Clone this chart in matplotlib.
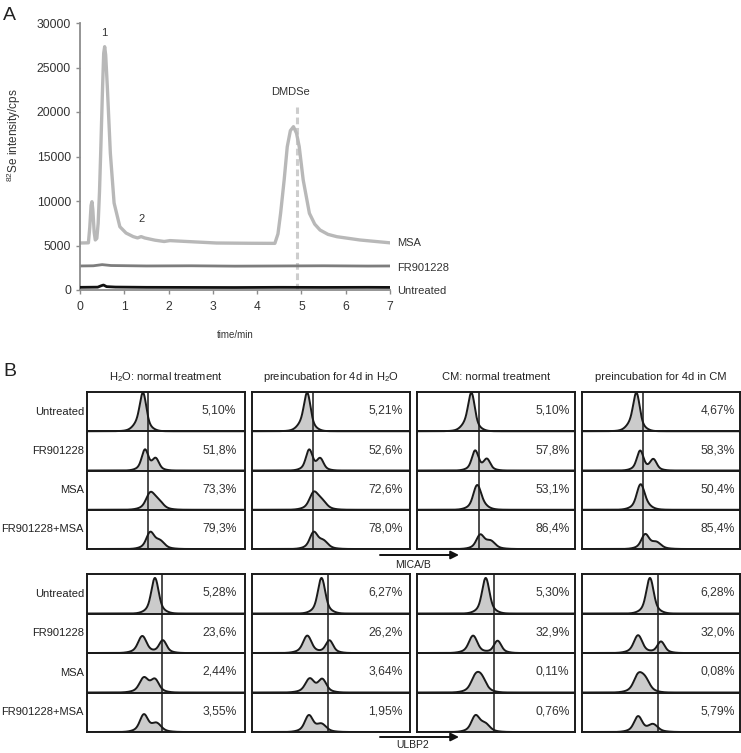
import numpy as np
import matplotlib.pyplot as plt

plt.rcParams['font.family'] = ['Liberation Sans', 'DejaVu Sans']
plt.rcParams['mathtext.default'] = 'regular'

# ---- Panel A: 82Se chromatograms (time in min, intensity in cps)
msa_t = [0.0, 0.19, 0.22, 0.25, 0.27, 0.29, 0.32, 0.345, 0.38, 0.41, 0.44, 0.467,
         0.51, 0.535, 0.557, 0.58, 0.617, 0.685, 0.77, 0.90, 1.04, 1.2, 1.3, 1.38,
         1.46, 1.69, 1.9, 2.03, 2.41, 3.08, 3.84, 4.40, 4.47, 4.53, 4.61, 4.68, 4.75,
         4.82, 4.89, 4.95, 5.04, 5.18, 5.30, 5.42, 5.60, 5.80, 6.32, 7.0]
msa_cps = [5280, 5300, 7000, 9500, 9920, 9000, 6500, 5620, 5800, 7500, 11000, 15390,
           22840, 26600, 27340, 26400, 22840, 15390, 9770, 7110, 6400, 6000, 5850, 6000,
           5850, 5600, 5450, 5550, 5450, 5280, 5250, 5240, 6300, 8620, 12360, 16100, 17900,
           18350, 17600, 16100, 12360, 8620, 7400, 6740, 6250, 5990, 5620, 5300]
fr_t = [0.0, 0.3, 0.5, 0.7, 1.5, 2.5, 3.5, 4.5, 5.5, 6.5, 7.0]
fr_cps = [2700, 2720, 2850, 2750, 2700, 2720, 2680, 2700, 2720, 2690, 2700]
unt_t = [0.0, 0.4, 0.48, 0.53, 0.6, 0.8, 1.5, 2.5, 3.5, 4.5, 5.5, 6.5, 7.0]
unt_cps = [300, 320, 480, 560, 380, 330, 300, 290, 280, 300, 290, 300, 290]
dmdse_t = 4.9
dmdse_top = 20600

# ---- Panel B: flow cytometry
conditions = ["Untreated", "FR901228", "MSA", "FR901228+MSA"]
col_titles = ["H$_2$O: normal treatment", "preincubation for 4d in H$_2$O",
              "CM: normal treatment", "preincubation for 4d in CM"]
mica_pct = [["5,10%", "51,8%", "73,3%", "79,3%"],
            ["5,21%", "52,6%", "72,6%", "78,0%"],
            ["5,10%", "57,8%", "53,1%", "86,4%"],
            ["4,67%", "58,3%", "50,4%", "85,4%"]]
ulbp_pct = [["5,28%", "23,6%", "2,44%", "3,55%"],
            ["6,27%", "26,2%", "3,64%", "1,95%"],
            ["5,30%", "32,9%", "0,11%", "0,76%"],
            ["6,28%", "32,0%", "0,08%", "5,79%"]]
mica_gate = [0.385, 0.385, 0.39, 0.385]
ulbp_gate = [0.475, 0.48, 0.487, 0.48]
# histogram peaks per cell: (position, relative height, width)
mica_peaks = [
    [[(0.355, 0.90, 0.019), (0.325, 0.12, 0.03)],
     [(0.367, 0.52, 0.019), (0.435, 0.29, 0.019)],
     [(0.40, 0.39, 0.024), (0.45, 0.20, 0.027)],
     [(0.40, 0.40, 0.022), (0.46, 0.19, 0.027)]],
    [[(0.35, 0.90, 0.019), (0.32, 0.12, 0.03)],
     [(0.362, 0.52, 0.019), (0.432, 0.29, 0.019)],
     [(0.39, 0.40, 0.024), (0.44, 0.20, 0.027)],
     [(0.39, 0.40, 0.022), (0.45, 0.19, 0.027)]],
    [[(0.345, 0.90, 0.019), (0.315, 0.12, 0.03)],
     [(0.368, 0.50, 0.019), (0.443, 0.28, 0.019)],
     [(0.38, 0.58, 0.022), (0.41, 0.08, 0.027)],
     [(0.40, 0.34, 0.022), (0.465, 0.19, 0.027)]],
    [[(0.345, 0.90, 0.019), (0.315, 0.12, 0.03)],
     [(0.368, 0.50, 0.019), (0.452, 0.28, 0.019)],
     [(0.37, 0.60, 0.022), (0.40, 0.08, 0.027)],
     [(0.40, 0.36, 0.022), (0.47, 0.16, 0.027)]],
]
ulbp_peaks = [
    [[(0.43, 0.90, 0.021)],
     [(0.35, 0.43, 0.024), (0.48, 0.32, 0.021)],
     [(0.36, 0.36, 0.025), (0.43, 0.31, 0.023)],
     [(0.36, 0.43, 0.023), (0.44, 0.21, 0.027)]],
    [[(0.44, 0.90, 0.021)],
     [(0.35, 0.44, 0.024), (0.49, 0.32, 0.021)],
     [(0.365, 0.34, 0.025), (0.445, 0.32, 0.023)],
     [(0.36, 0.41, 0.023), (0.44, 0.19, 0.027)]],
    [[(0.435, 0.90, 0.021)],
     [(0.355, 0.44, 0.024), (0.51, 0.31, 0.021)],
     [(0.37, 0.36, 0.025), (0.41, 0.31, 0.025)],
     [(0.37, 0.39, 0.023), (0.43, 0.19, 0.027)]],
    [[(0.43, 0.90, 0.021)],
     [(0.355, 0.45, 0.024), (0.50, 0.29, 0.021)],
     [(0.355, 0.40, 0.025), (0.40, 0.29, 0.025)],
     [(0.355, 0.39, 0.023), (0.45, 0.19, 0.027)]],
]

W, H = 741, 753
fig = plt.figure(figsize=(W / 100, H / 100), dpi=100)


def px_box(x0, y0, x1, y1):
    # pixel box (top-left origin) -> figure fraction rect
    return [x0 / W, (H - y1) / H, (x1 - x0) / W, (y1 - y0) / H]


def peak_shape(x, mu, h, sig):
    # sharp core with a broader skirt, like a cytometry histogram
    core = np.exp(-0.5 * ((x - mu) / sig) ** 2)
    skirt = np.exp(-0.5 * ((x - mu) / (2.2 * sig)) ** 2)
    return h * (0.75 * core + 0.25 * skirt)


# ---- Panel A
ax = fig.add_axes(px_box(80, 23, 390, 290))
ax.plot([dmdse_t, dmdse_t], [0, dmdse_top], color='#cdcdcd', lw=2.2,
        ls=(0, (2.2, 1.2)), zorder=1)
ax.plot(msa_t, msa_cps, color='#b8b8b8', lw=2.4, zorder=2, solid_joinstyle='round')
ax.plot(fr_t, fr_cps, color='#7d7d7d', lw=2.0, zorder=2)
ax.plot(unt_t, unt_cps, color='#111111', lw=2.0, zorder=3)
ax.set_xlim(0, 7)
ax.set_ylim(0, 30000)
ax.set_xticks(range(8))
ax.set_yticks(range(0, 30001, 5000))
for s in ['top', 'right']:
    ax.spines[s].set_visible(False)
for s in ['left', 'bottom']:
    ax.spines[s].set_color('#8c8c8c')
    ax.spines[s].set_linewidth(1.3)
ax.tick_params(colors='#8c8c8c', labelcolor='#333333', labelsize=8.7,
               length=3, width=1.0)
ax.tick_params(axis='x', pad=5)
ax.set_ylabel('$^{82}$Se intensity/cps', fontsize=8.5, color='#333333')
ax.yaxis.set_label_coords(-0.185, 0.58)
ax.set_xlabel('time/min', fontsize=7, color='#333333')
ax.xaxis.set_label_coords(0.5, -0.15)
ax.text(0.54, 28900, '1', fontsize=8, ha='center', va='center', color='#333333')
ax.text(1.4, 7980, '2', fontsize=8, ha='center', va='center', color='#333333')
ax.text(4.76, 22250, 'DMDSe', fontsize=8, ha='center', va='center', color='#333333')
ax.text(7.15, msa_cps[-1], 'MSA', fontsize=8, va='center', color='#333333', clip_on=False)
ax.text(7.15, 2470, 'FR901228', fontsize=8, va='center', color='#333333', clip_on=False)
ax.text(7.15, -110, 'Untreated', fontsize=8, va='center', color='#333333', clip_on=False)

fig.text(3 / W, 1 - 15 / H, 'A', fontsize=14, va='center', ha='left', color='#222222')
fig.text(3 / W, 1 - 371 / H, 'B', fontsize=14, va='center', ha='left', color='#222222')

# ---- Panel B
col_left = [87, 252, 417, 582]
col_w = 158
pct_x = [0.945, 0.955, 0.965, 0.968]
blocks = [(392, 549, mica_pct, mica_peaks, mica_gate),
          (574, 732, ulbp_pct, ulbp_peaks, ulbp_gate)]
xs = np.linspace(0, 1, 600)

for top, bot, pcts, peaks, gates in blocks:
    rowh = (bot - top) / 4
    for r, cond in enumerate(conditions):
        fig.text(84 / W, 1 - (top + rowh * (r + 0.5)) / H, cond, fontsize=8,
                 ha='right', va='center', color='#222222')
    for c in range(4):
        bax = fig.add_axes(px_box(col_left[c], top, col_left[c] + col_w, bot))
        bax.set_xlim(0, 1)
        bax.set_ylim(0, 4)
        bax.set_xticks([])
        bax.set_yticks([])
        for s in bax.spines.values():
            s.set_linewidth(1.4)
            s.set_color('#1a1a1a')
        for r in range(4):
            base = 3 - r
            prof = np.zeros_like(xs)
            for mu, h, sig in peaks[c][r]:
                prof += peak_shape(xs, mu, h, sig)
            bax.fill_between(xs, base, base + prof, color='#cbcbcb', lw=0, zorder=1)
            bax.plot(xs, base + prof, color='#1a1a1a', lw=1.4, zorder=3)
            bax.text(pct_x[c], base + 0.52, pcts[c][r], fontsize=8.7,
                     ha='right', va='center', color='#333333')
        for yl in [1, 2, 3]:
            bax.axhline(yl, color='#1a1a1a', lw=1.4, zorder=4)
        bax.axvline(gates[c], color='#1a1a1a', lw=1.1, zorder=4)

for c in range(4):
    fig.text((col_left[c] + col_w / 2) / W, 1 - 377 / H, col_titles[c], fontsize=8,
             ha='center', va='center', color='#222222')

# axis arrows
for y_arrow, y_text, label in [(555, 565, 'MICA/B'), (737, 745, 'ULBP2')]:
    fig.add_artist(plt.Annotation('', xy=(459 / W, 1 - y_arrow / H),
                                  xytext=(380 / W, 1 - y_arrow / H),
                                  xycoords='figure fraction',
                                  arrowprops=dict(arrowstyle='-|>', color='#111111',
                                                  lw=1.4, mutation_scale=12,
                                                  shrinkA=0, shrinkB=0)))
    fig.text(413 / W, 1 - y_text / H, label, fontsize=7.5, ha='center', va='center',
             color='#222222')

fig.savefig('out.png', dpi=100)
